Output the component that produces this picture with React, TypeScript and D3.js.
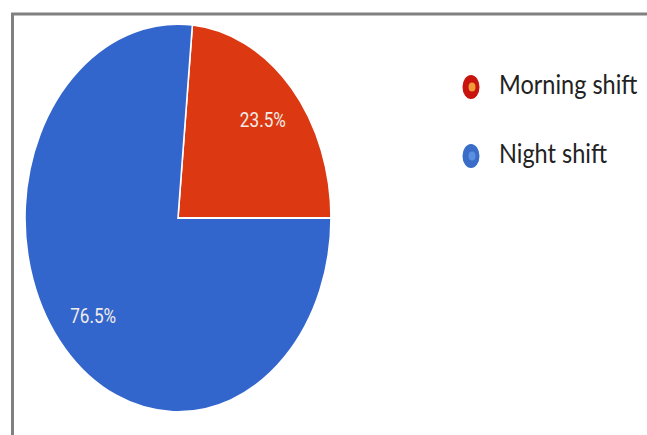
import React from "react";
import * as d3 from "d3";

const categories = ["Morning shift", "Night shift"];
const values = [23.5, 76.5];
const sliceColors = ["#dc3912", "#3366cc"];
const markerCore = ["#f09a3a", "#5b8fe0"];
const markerOuter = ["#c8140c", "#3a6dc8"];

const W = 647;
const H = 435;
const cx = 178;
const cy = 218;
const ry = 194;
const rx = 153;
const sx = rx / ry;

export default function App() {
  const offset = 2 * Math.PI * (0.25 - values[0] / 100);
  const pie = d3
    .pie<number>()
    .sort(null)
    .value((d) => d)
    .startAngle(offset)
    .endAngle(offset + 2 * Math.PI);
  const arcs = pie(values);
  const arc = d3.arc<d3.PieArcDatum<number>>().innerRadius(0).outerRadius(ry);
  const labelArc = d3
    .arc<d3.PieArcDatum<number>>()
    .innerRadius(ry * 0.75)
    .outerRadius(ry * 0.75);
  const total = d3.sum(values);
  const legendY = d3.scalePoint<string>().domain(categories).range([87, 156]);

  return (
    <svg
      width={W}
      height={H}
      style={{ position: "absolute", left: 0, top: 0, background: "#fff" }}
    >
      <rect x={0} y={0} width={W} height={H} fill="#fff" />
      <path d={`M12.5,${H} V14 H${W}`} fill="none" stroke="#808080" strokeWidth={3} />
      <g transform={`translate(${cx},${cy}) scale(${sx},1)`}>
        {arcs.map((a, i) => (
          <path
            key={i}
            d={arc(a) || ""}
            fill={sliceColors[i]}
            stroke="#fff"
            strokeWidth={2}
          />
        ))}
      </g>
      {arcs.map((a, i) => {
        const [lx, ly] = labelArc.centroid(a);
        const label = `${((values[i] / total) * 100).toFixed(1)}%`;
        return (
          <text
            key={i}
            x={cx + lx * sx}
            y={cy + ly}
            textAnchor="middle"
            dominantBaseline="central"
            fontFamily="Roboto, 'Noto Sans', sans-serif"
            fontSize={20}
            textLength={46}
            lengthAdjust="spacingAndGlyphs"
            fill="#f2ece8"
          >
            {label}
          </text>
        );
      })}
      {categories.map((c, i) => {
        const y = legendY(c) as number;
        return (
          <g key={c}>
            <ellipse cx={471} cy={y} rx={8.5} ry={12} fill={markerOuter[i]} />
            <ellipse cx={472} cy={y} rx={3.5} ry={4.5} fill={markerCore[i]} />
            <g transform={`translate(499,${y + 7}) scale(1,1.15)`}>
              <text
                x={0}
                y={0}
                fontFamily="Lato, 'Open Sans', sans-serif"
                fontSize={23.5}
                fill="#222"
              >
                {c}
              </text>
            </g>
          </g>
        );
      })}
    </svg>
  );
}
